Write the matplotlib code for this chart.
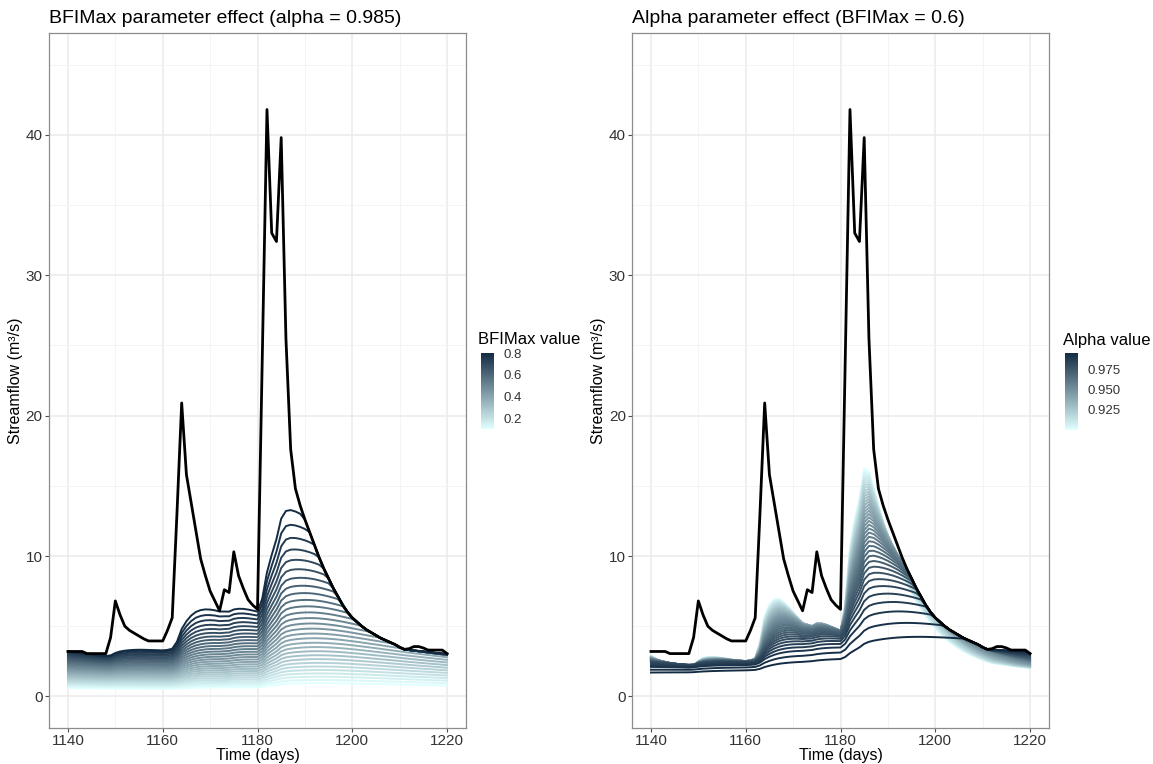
import numpy as np
import matplotlib
matplotlib.use('Agg')
import matplotlib.pyplot as plt
from matplotlib.colors import LinearSegmentedColormap, Normalize
from matplotlib.cm import ScalarMappable

plt.rcParams['font.family'] = ['Liberation Sans', 'DejaVu Sans']

# daily streamflow (m3/s), days 1140..1220
days = np.arange(1140, 1221)
flow = [3.2, 3.2, 3.2, 3.2, 3.05, 3.05, 3.05, 3.05, 3.05, 4.2,
        6.8, 5.8, 5.0, 4.7, 4.5, 4.3, 4.1, 3.95, 3.95, 3.95,
        3.95, 4.7, 5.6, 13.0, 20.9, 15.8, 13.8, 11.8, 9.8, 8.6,
        7.5, 6.8, 6.1, 7.6, 7.4, 10.3, 8.6, 7.7, 6.9, 6.5,
        6.2, 24.0, 41.8, 33.0, 32.4, 39.8, 25.5, 17.6, 14.8, 13.6,
        12.6, 11.7, 10.8, 9.9, 9.1, 8.4, 7.7, 7.1, 6.5, 6.0,
        5.6, 5.3, 5.0, 4.75, 4.55, 4.35, 4.15, 4.0, 3.85, 3.7,
        3.5, 3.35, 3.4, 3.55, 3.55, 3.45, 3.3, 3.3, 3.3, 3.3,
        3.05]

# parameter sets
bfimax_values = np.round(np.arange(0.1, 0.8001, 0.025), 4)
alpha_values = np.round(np.arange(0.9, 0.99501, 0.0025), 4)
alpha_fixed = 0.985
bfimax_fixed = 0.6

# baseflow on day 1140
start_left = [0.6, 3.3]            # BFImax 0.1 -> 0.8
start_alpha = [0.9, 0.95, 0.98, 0.99, 0.995]
start_right = [2.9, 2.7, 2.45, 2.1, 1.7]


def eckhardt(q, a, bfi, b0):
    q = np.asarray(q, dtype=float)
    b = np.zeros(len(q))
    b[0] = min(b0, q[0])
    for t in range(1, len(q)):
        bt = ((1 - bfi) * a * b[t - 1] + (1 - a) * bfi * q[t]) / (1 - a * bfi)
        b[t] = min(bt, q[t])
    return b


cmap = LinearSegmentedColormap.from_list('bf', ['#E0FFFF', '#132B43'])

fig = plt.figure(figsize=(11.53, 7.64), dpi=100)
W, H = 1153, 764


def px_axes(x0, y0, x1, y1):
    return fig.add_axes([x0 / W, 1 - y1 / H, (x1 - x0) / W, (y1 - y0) / H])


ax1 = px_axes(49, 33, 466, 728)
ax2 = px_axes(632, 33, 1049, 728)


def style(ax, title):
    ax.set_xlim(1136, 1224)
    ax.set_ylim(-2.25, 47.25)
    ax.set_xticks([1140, 1160, 1180, 1200, 1220])
    ax.set_xticks([1150, 1170, 1190, 1210], minor=True)
    ax.set_yticks([0, 10, 20, 30, 40])
    ax.set_yticks([5, 15, 25, 35, 45], minor=True)
    ax.grid(which='major', color='#EBEBEB', linewidth=1.1)
    ax.grid(which='minor', color='#F3F3F3', linewidth=0.6)
    ax.set_axisbelow(True)
    for s in ax.spines.values():
        s.set_color('#8C8C8C')
        s.set_linewidth(0.9)
    ax.tick_params(which='major', length=3, color='#4D4D4D', labelsize=11,
                   labelcolor='#333333', pad=1.5)
    ax.tick_params(which='minor', length=0)
    ax.set_xlabel('Time (days)', fontsize=11.5, labelpad=-0.5)
    ax.set_ylabel('Streamflow (m³/s)', fontsize=11.5, labelpad=2)
    ax.set_title(title, loc='left', fontsize=14, pad=7.5)


# left panel: BFIMax effect
norm1 = Normalize(bfimax_values.min(), bfimax_values.max())
n1 = len(bfimax_values)
for i, bfi in enumerate(bfimax_values):
    b0 = start_left[0] + (start_left[1] - start_left[0]) * i / (n1 - 1)
    bf = eckhardt(flow, alpha_fixed, bfi, b0)
    ax1.plot(days, bf, color=cmap(norm1(bfi)), linewidth=1.4)
ax1.plot(days, flow, color='black', linewidth=2.0)
style(ax1, 'BFIMax parameter effect (alpha = 0.985)')

# right panel: alpha effect
norm2 = Normalize(alpha_values.min(), alpha_values.max())
for a in alpha_values:
    b0 = np.interp(a, start_alpha, start_right)
    bf = eckhardt(flow, a, bfimax_fixed, b0)
    ax2.plot(days, bf, color=cmap(norm2(a)), linewidth=1.4)
ax2.plot(days, flow, color='black', linewidth=2.0)
style(ax2, 'Alpha parameter effect (BFIMax = 0.6)')

# colourbars
cax1 = px_axes(481, 353, 494, 429)
cb1 = fig.colorbar(ScalarMappable(norm=norm1, cmap=cmap), cax=cax1)
cb1.set_ticks([0.2, 0.4, 0.6, 0.8])
cb1.set_ticklabels(['0.2', '0.4', '0.6', '0.8'])
cb1.outline.set_visible(False)
cb1.ax.tick_params(length=0, labelsize=9.5, labelcolor='#333333', pad=7)
fig.text(478 / W, 1 - 340 / H, 'BFIMax value', fontsize=12, va='center', ha='left')

cax2 = px_axes(1065, 353, 1078, 430)
cb2 = fig.colorbar(ScalarMappable(norm=norm2, cmap=cmap), cax=cax2)
cb2.set_ticks([0.925, 0.95, 0.975])
cb2.set_ticklabels(['0.925', '0.950', '0.975'])
cb2.outline.set_visible(False)
cb2.ax.tick_params(length=0, labelsize=9.5, labelcolor='#333333', pad=7)
fig.text(1063 / W, 1 - 340 / H, 'Alpha value', fontsize=12, va='center', ha='left')

fig.savefig('out.png', dpi=100)
